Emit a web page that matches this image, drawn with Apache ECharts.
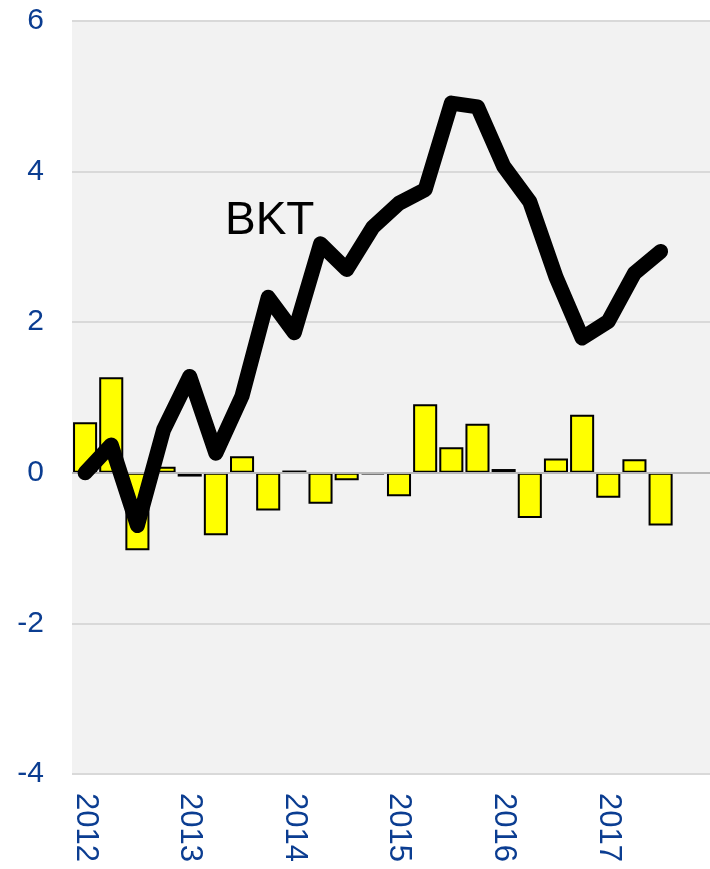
<!DOCTYPE html>
<html>
<head>
<meta charset="utf-8">
<script src="https://cdn.jsdelivr.net/npm/echarts@6/dist/echarts.min.js"></script>
<style>
  html, body { margin: 0; padding: 0; background: #fff; overflow: hidden; }
  /* chart is a bit wider than the window: the plot runs past the right edge */
  #main { width: 726px; height: 869px; }
</style>
</head>
<body>
<div id="main"></div>
<script>
  // quarters 2012Q1 .. 2017Q3, plus two empty slots at the right edge
  var quarters = []
  for (var y = 2012; y <= 2018; y++) {
    for (var q = 1; q <= 4; q++) quarters.push(y + 'Q' + q)
  }
  quarters = quarters.slice(0, 25)

  // yellow bars
  var barValues = [0.67, 1.27, -1.03, 0.08, -0.05, -0.83, 0.22, -0.50, 0.03, -0.41, -0.10, -0.02,
    -0.31, 0.91, 0.34, 0.65, 0.05, -0.60, 0.19, 0.77, -0.33, 0.18, -0.70]
  // BKT line
  var bktValues = [0.0, 0.37, -0.70, 0.57, 1.28, 0.26, 1.02, 2.33, 1.86, 3.04, 2.70, 3.26,
    3.58, 3.76, 4.91, 4.86, 4.07, 3.60, 2.60, 1.79, 2.01, 2.65, 2.94]
  var yearLabels = ['2012', '2013', '2014', '2015', '2016', '2017']
  var yTicks = { min: -4, max: 6, interval: 2 }

  var myChart = echarts.init(document.getElementById('main'))
  var blue = '#0b3d91'
  var option = {
    animation: false,
    grid: {
      left: 72,
      right: 0,
      top: 21,
      bottom: 95,
      show: true,
      backgroundColor: '#f2f2f2',
      borderWidth: 0,
    },
    xAxis: {
      type: 'category',
      data: quarters,
      axisLine: { show: false },
      axisTick: { show: false },
      axisLabel: {
        interval: 3,
        rotate: -90,
        margin: 19,
        color: blue,
        fontSize: 31,
        fontFamily: 'Liberation Sans, Arial, sans-serif',
        formatter: function (v) {
          var yr = v.slice(0, 4)
          return yearLabels.indexOf(yr) >= 0 ? yr : ''
        },
      },
    },
    yAxis: {
      type: 'value',
      min: yTicks.min,
      max: yTicks.max,
      interval: yTicks.interval,
      axisLine: { show: false },
      axisTick: { show: false },
      axisLabel: {
        color: blue,
        fontSize: 30,
        margin: 28,
        fontFamily: 'Liberation Sans, Arial, sans-serif',
      },
      splitLine: {
        lineStyle: { color: '#d9d9d9', width: 2 },
      },
    },
    graphic: [
      {
        type: 'text',
        left: 225,
        top: 198,
        style: {
          text: 'BKT',
          fontSize: 46,
          fontFamily: 'Liberation Sans, Arial, sans-serif',
          fill: '#000',
        },
      },
    ],
    series: [
      {
        type: 'bar',
        data: barValues,
        barCategoryGap: '8%',
        itemStyle: {
          color: '#ffff00',
          borderColor: '#000',
          borderWidth: 2,
        },
        markLine: {
          silent: true,
          symbol: 'none',
          label: { show: false },
          lineStyle: { color: '#b8b8b8', width: 2, type: 'solid' },
          data: [{ yAxis: 0 }],
        },
      },
      {
        name: 'BKT',
        type: 'line',
        data: bktValues,
        showSymbol: false,
        z: 5,
        lineStyle: {
          color: '#000',
          width: 15,
          cap: 'round',
          join: 'round',
        },
      },
    ],
  }
  myChart.setOption(option)
  window.addEventListener('resize', function () {
    myChart.resize()
  })
</script>
</body>
</html>
